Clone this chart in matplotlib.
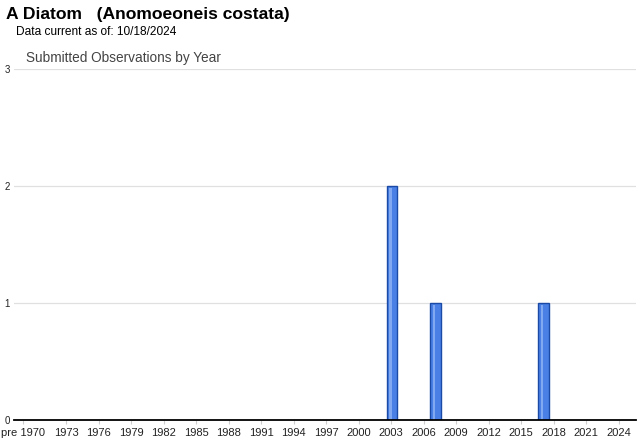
import matplotlib
matplotlib.use("Agg")
import matplotlib.pyplot as plt

plt.rcParams['font.family'] = ['Liberation Sans', 'DejaVu Sans']

# Data
title = "A Diatom   (Anomoeoneis costata)"
subtitle = "Data current as of: 10/18/2024"
chart_title = "Submitted Observations by Year"
first_year = 1970
last_year = 2024
obs_years = [2003, 2007, 2017]
obs_counts = [2, 1, 1]
tick_labels = ["pre 1970"] + [str(y) for y in range(1973, 2025, 3)]
y_ticks = [0, 1, 2, 3]

# categories: index 0 = "pre 1970", then 1970..2024
categories = ["pre 1970"] + [str(y) for y in range(first_year, last_year + 1)]
counts = [0] * len(categories)
for yr, c in zip(obs_years, obs_counts):
    counts[categories.index(str(yr))] = c

fig = plt.figure(figsize=(6.4, 4.42), dpi=100)
ax = fig.add_axes([14 / 640, 22 / 442, 622 / 640, 351 / 442])

xs = list(range(len(categories)))
nz = [i for i, c in enumerate(counts) if c > 0]
ax.bar([xs[i] + 0.08 for i in nz], [counts[i] for i in nz], width=0.97,
       color="#4a80e6", edgecolor="#1a4aa6", linewidth=1.0, zorder=3)
# highlight stripe
ax.bar([xs[i] - 0.05 for i in nz], [counts[i] - 0.02 for i in nz], width=0.22,
       color="#8fb4f5", linewidth=0, zorder=4, alpha=0.8)

ax.set_xlim(-0.8, 56.6)
ax.set_ylim(0, 3)
ax.set_yticks(y_ticks)
ax.set_yticklabels([str(v) for v in y_ticks], fontsize=7, color="#222222")
ax.yaxis.grid(True, color="#e0e0e0", linewidth=0.9, zorder=0)
ax.tick_params(axis="y", length=0, pad=3)

tick_pos = [categories.index("pre 1970")] + [categories.index(l) for l in tick_labels[1:]]
ax.set_xticks(tick_pos)
ax.set_xticklabels(tick_labels, fontsize=8, color="#222222")
ax.tick_params(axis="x", length=3, color="#cccccc", width=0.8, pad=3)

for s in ["top", "right", "left"]:
    ax.spines[s].set_visible(False)
ax.spines["bottom"].set_color("#000000")
ax.spines["bottom"].set_linewidth(1.3)
ax.spines["bottom"].set_zorder(5)

fig.text(6 / 640, 1 - 14 / 442, title, fontsize=12.6, fontweight="bold",
         va="center", ha="left", color="#000000")
fig.text(16 / 640, 1 - 32 / 442, subtitle, fontsize=8.6, va="center", ha="left",
         color="#000000")
fig.text(26 / 640, 1 - 58 / 442, chart_title, fontsize=9.8, va="center", ha="left",
         color="#444444")

fig.savefig("out.png", dpi=100)
